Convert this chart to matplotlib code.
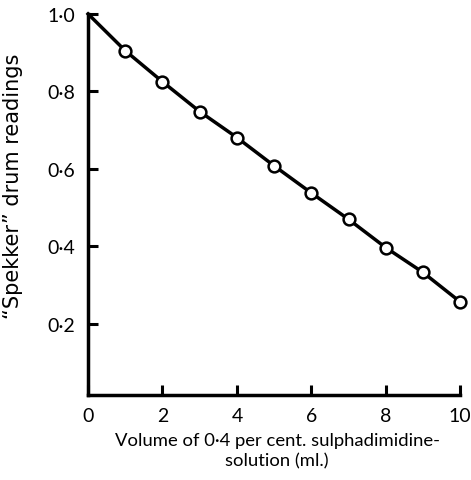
import matplotlib.pyplot as plt
from matplotlib.ticker import FuncFormatter

volume = [0, 1, 2, 3, 4, 5, 6, 7, 8, 9, 10]
reading = [1.0, 0.905, 0.825, 0.748, 0.681, 0.608, 0.538, 0.470, 0.397, 0.333, 0.257]
x_ticks = [0, 2, 4, 6, 8, 10]
y_ticks = [0.2, 0.4, 0.6, 0.8, 1.0]

plt.rcParams["font.family"] = ["Lato", "DejaVu Sans"]

fig = plt.figure(figsize=(4.71, 4.81), dpi=100)
ax = fig.add_axes([0.187, 0.177, 0.79, 0.792])

ax.plot(volume, reading, color="black", lw=2.5, zorder=2, clip_on=False)
ax.plot(volume[1:], reading[1:], "o", ms=8.5, mfc="white", mec="black", mew=1.8,
        zorder=3, clip_on=False)

ax.set_xlim(0, 10)
ax.set_ylim(0.017, 1.0)
ax.set_xticks(x_ticks)
ax.set_yticks(y_ticks)
ax.xaxis.set_major_formatter(FuncFormatter(lambda v, p: f"{int(v)}"))
ax.yaxis.set_major_formatter(FuncFormatter(lambda v, p: f"{v:.1f}".replace(".", "\u00b7")))
ax.tick_params(direction="in", length=7, width=2.2, labelsize=14, pad=9)

for side in ["top", "right"]:
    ax.spines[side].set_visible(False)
for side in ["left", "bottom"]:
    ax.spines[side].set_linewidth(2.5)

ax.set_ylabel("\u201cSpekker\u201d drum readings", fontsize=15, family="DejaVu Sans")
ax.yaxis.set_label_coords(-0.175, 0.551)
ax.set_xlabel("Volume of 0\u00b74 per cent. sulphadimidine-\nsolution (ml.)", fontsize=13.3,
              linespacing=1.3)
ax.xaxis.set_label_coords(0.508, -0.098)

fig.savefig("out.png", dpi=100)
